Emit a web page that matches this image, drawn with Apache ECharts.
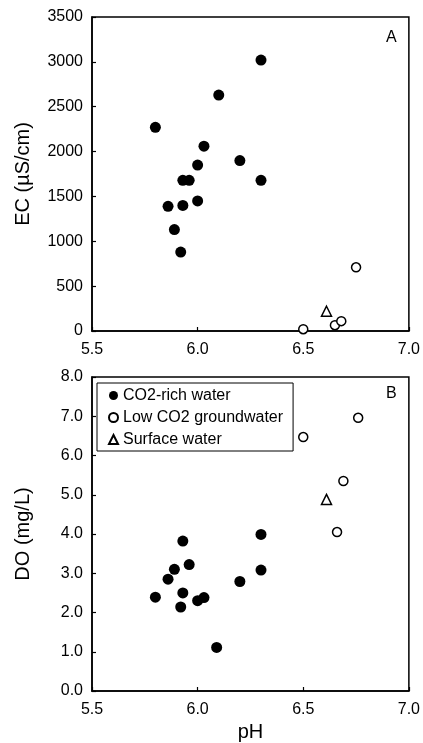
<!DOCTYPE html>
<html>
<head>
<meta charset="utf-8">
<script src="https://cdn.jsdelivr.net/npm/echarts@6/dist/echarts.min.js"></script>
<style>
  html, body { margin: 0; padding: 0; background: #fff; }
  #chart { width: 423px; height: 743px; }
</style>
</head>
<body>
<div id="chart"></div>
<script>
// panel A: EC vs pH
const phRichA = [5.80, 5.86, 5.89, 5.92, 5.93, 5.93, 5.96, 6.00, 6.00, 6.03, 6.10, 6.20, 6.30, 6.30]
const ecRich = [2270, 1390, 1130, 880, 1400, 1680, 1680, 1850, 1450, 2060, 2630, 1900, 3020, 1680]
const phLowA = [6.50, 6.65, 6.68, 6.75]
const ecLow = [20, 65, 110, 710]
const phSurfA = [6.61]
const ecSurf = [220]

// panel B: DO vs pH
const phRichB = [5.80, 5.86, 5.89, 5.93, 5.96, 5.93, 5.92, 6.00, 6.03, 6.09, 6.20, 6.30, 6.30]
const doRich = [2.39, 2.85, 3.10, 3.82, 3.22, 2.50, 2.14, 2.30, 2.38, 1.11, 2.79, 3.99, 3.08]
const phLowB = [6.50, 6.76, 6.69, 6.66]
const doLow = [6.47, 6.96, 5.35, 4.05]
const phSurfB = [6.61]
const doSurf = [4.88]

const names = ['CO2-rich water', 'Low CO2 groundwater', 'Surface water']

const FONT = '"Liberation Sans", Arial, sans-serif'
const pair = (xs, ys) => xs.map((x, i) => [x, ys[i]])

const chart = echarts.init(document.getElementById('chart'))

const xAxisBase = (gridIndex) => ({
  type: 'value',
  gridIndex,
  min: 5.5,
  max: 7.0,
  interval: 0.5,
  axisLine: { lineStyle: { color: '#000', width: 1.5 } },
  axisTick: { inside: true, length: 4, lineStyle: { color: '#000', width: 1.2 } },
  axisLabel: {
    color: '#000', fontFamily: FONT, fontSize: 16, margin: 11,
    formatter: (v) => v.toFixed(1),
  },
  splitLine: { show: false },
})

const yAxisBase = (gridIndex, fmt) => ({
  type: 'value',
  gridIndex,
  nameLocation: 'middle',
  nameTextStyle: { color: '#000', fontFamily: FONT, fontSize: 20 },
  axisLine: { lineStyle: { color: '#000', width: 1.5 } },
  axisTick: { inside: true, length: 4, lineStyle: { color: '#000', width: 1.2 } },
  axisLabel: { color: '#000', fontFamily: FONT, fontSize: 16, margin: 9, formatter: fmt },
  splitLine: { show: false },
})

// scatter defaults to opacity 0.8, the printed figure is solid black
const filled = { color: '#000', opacity: 1 }
const open = { color: '#fff', borderColor: '#000', borderWidth: 1.5, opacity: 1 }

chart.setOption({
  animation: false,
  backgroundColor: '#fff',
  grid: [
    { left: 92, right: 12, top: 17, height: 314, show: true, borderColor: '#000', borderWidth: 1.5, backgroundColor: 'transparent' },
    { left: 92, right: 12, top: 377, height: 315, show: true, borderColor: '#000', borderWidth: 1.5, backgroundColor: 'transparent' },
  ],
  xAxis: [
    xAxisBase(0),
    Object.assign(xAxisBase(1), {
      name: 'pH',
      nameLocation: 'middle',
      nameGap: 31,
      nameTextStyle: { color: '#000', fontFamily: FONT, fontSize: 20 },
    }),
  ],
  yAxis: [
    Object.assign(yAxisBase(0, (v) => String(v)), { name: 'EC (\u00b5S/cm)', nameGap: 59, min: 0, max: 3500, interval: 500 }),
    Object.assign(yAxisBase(1, (v) => v.toFixed(1)), { name: 'DO (mg/L)', nameGap: 59, min: 0, max: 8, interval: 1 }),
  ],
  legend: {
    data: names,
    orient: 'vertical',
    left: 97,
    top: 383,
    padding: [4, 10, 3, 11],
    itemGap: 5,
    itemWidth: 9,
    itemHeight: 9,
    backgroundColor: '#fff',
    borderColor: '#000',
    borderWidth: 1,
    borderRadius: 0,
    textStyle: { color: '#000', fontFamily: FONT, fontSize: 16, lineHeight: 17 },
    selectedMode: false,
  },
  graphic: [
    { type: 'text', left: 386, top: 30, style: { text: 'A', font: '16px ' + FONT, fill: '#000' } },
    { type: 'text', left: 386, top: 386, style: { text: 'B', font: '16px ' + FONT, fill: '#000' } },
  ],
  series: [
    { name: names[0], type: 'scatter', xAxisIndex: 0, yAxisIndex: 0, symbol: 'circle', symbolSize: 11, itemStyle: filled, data: pair(phRichA, ecRich) },
    { name: names[1], type: 'scatter', xAxisIndex: 0, yAxisIndex: 0, symbol: 'circle', symbolSize: 9, itemStyle: open, data: pair(phLowA, ecLow) },
    { name: names[2], type: 'scatter', xAxisIndex: 0, yAxisIndex: 0, symbol: 'triangle', symbolSize: 10, itemStyle: open, data: pair(phSurfA, ecSurf) },
    { name: names[0], type: 'scatter', xAxisIndex: 1, yAxisIndex: 1, symbol: 'circle', symbolSize: 11, itemStyle: filled, data: pair(phRichB, doRich) },
    { name: names[1], type: 'scatter', xAxisIndex: 1, yAxisIndex: 1, symbol: 'circle', symbolSize: 9, itemStyle: open, data: pair(phLowB, doLow) },
    { name: names[2], type: 'scatter', xAxisIndex: 1, yAxisIndex: 1, symbol: 'triangle', symbolSize: 10, itemStyle: open, data: pair(phSurfB, doSurf) },
  ],
})
</script>
</body>
</html>
